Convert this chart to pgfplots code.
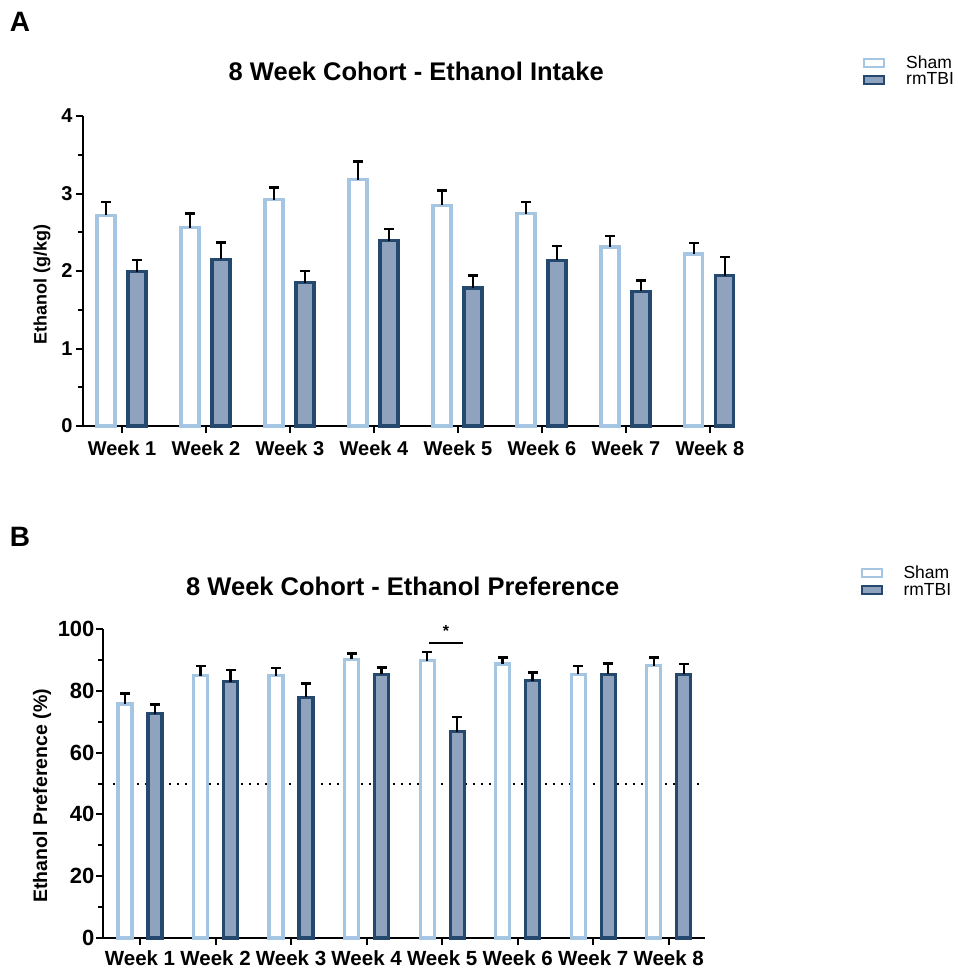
\documentclass[border=0pt]{standalone}
\usepackage{pgfplots}
\pgfplotsset{compat=1.18}
\usepackage{fontspec}
\setmainfont{Liberation Sans}
\definecolor{shamedge}{RGB}{165,198,227}
\definecolor{rmedge}{RGB}{37,72,110}
\definecolor{rmfill}{RGB}{143,163,190}
\pgfplotsset{
  myaxis/.style={
    scale only axis,
    ybar,
    axis lines=left,
    axis line style={-, line width=2pt},
    tick align=outside,
    major tick length=7pt,
    minor tick length=5pt,
    every tick/.style={line width=2pt, black},
    minor y tick num=1,
    xtick={1,2,3,4,5,6,7,8},
    xticklabels={Week 1,Week 2,Week 3,Week 4,Week 5,Week 6,Week 7,Week 8},
    /pgf/number format/assume math mode=true,
    title style={font=\bfseries\fontsize{25.5}{27}\selectfont, anchor=center},
    clip=false,
    legend cell align=left,
    legend image code/.code={\draw[#1, line width=2pt] (0pt,-4pt) rectangle (20pt,4pt);},
    legend style={draw=none, fill=none, inner sep=0pt, anchor=north west,
      font=\fontsize{17.5}{17.5}\selectfont, row sep=3pt, column sep=20pt,
      nodes={inner xsep=1pt, inner ysep=0pt}},
  },
  ebars/.style={
    error bars/y dir=plus,
    error bars/y explicit,
    error bars/error bar style={line width=2.5pt, black},
    error bars/error mark options={rotate=90, mark size=5pt, line width=2.5pt, black},
  },
  shamA/.style={ebars, draw=shamedge, fill=white, line width=3.2pt},
  rmA/.style={ebars, draw=rmedge, fill=rmfill, line width=3.2pt},
}
\begin{document}
\begin{tikzpicture}
\useasboundingbox (0,0) rectangle (958pt,-970pt);
\node[font=\bfseries\fontsize{28}{28}\selectfont] at (20pt,-22pt) {A};
\node[font=\bfseries\fontsize{28}{28}\selectfont] at (20pt,-537pt) {B};

% Panel A
\begin{axis}[myaxis,
  at={(83pt,-426pt)}, anchor=south west,
  width=642pt, height=310pt,
  bar width=18pt,
  xmin=0.535, xmax=8.18, ymin=0, ymax=4,
  ytick={0,1,2,3,4},
  ticklabel style={font=\bfseries\fontsize{20}{20}\selectfont},
  xticklabel style={yshift=-4pt},
  title={8 Week Cohort - Ethanol Intake},
  title style={at={(axis description cs:0.519,1.123)}},
  ylabel={Ethanol (g/kg)},
  ylabel style={font=\bfseries\fontsize{18}{18}\selectfont, at={(axis description cs:-0.064,0.455)}, anchor=center},
  legend style={at={(axis description cs:1.215,1.195)}},
]
\addplot[shamA, bar shift=-16pt] coordinates {
 (1,2.72) +- (0,0.17)
 (2,2.56) +- (0,0.18)
 (3,2.92) +- (0,0.16)
 (4,3.18) +- (0,0.23)
 (5,2.85) +- (0,0.19)
 (6,2.74) +- (0,0.15)
 (7,2.31) +- (0,0.14)
 (8,2.22) +- (0,0.14)
};
\addlegendentry{Sham}
\addplot[rmA, bar shift=15pt] coordinates {
 (1,1.99) +- (0,0.15)
 (2,2.15) +- (0,0.22)
 (3,1.85) +- (0,0.15)
 (4,2.39) +- (0,0.15)
 (5,1.78) +- (0,0.16)
 (6,2.14) +- (0,0.18)
 (7,1.74) +- (0,0.14)
 (8,1.94) +- (0,0.24)
};
\addlegendentry{rmTBI}
\end{axis}

% Panel B
\begin{axis}[myaxis,
  at={(103pt,-938pt)}, anchor=south west,
  width=602pt, height=309pt,
  bar width=14pt,
  xmin=0.51, xmax=8.48, ymin=0, ymax=100,
  ytick={0,20,40,60,80,100},
  xticklabel style={font=\bfseries\fontsize{20.5}{21}\selectfont, yshift=-2pt},
  yticklabel style={font=\bfseries\fontsize{22}{22}\selectfont, xshift=2pt},
  title={8 Week Cohort - Ethanol Preference},
  title style={at={(axis description cs:0.498,1.118)}},
  ylabel={Ethanol Preference (\%)},
  ylabel style={font=\bfseries\fontsize{19.5}{20}\selectfont, at={(axis description cs:-0.101,0.46)}, anchor=center},
  legend style={at={(axis description cs:1.258,1.205)}},
]
\addplot[forget plot, sharp plot, bar shift=0pt, black, line width=2pt, dash pattern=on 2pt off 6pt] coordinates {(0.64,50) (8.42,50)};
\addplot[shamA, bar shift=-15pt] coordinates {
 (1,75.7) +- (0,3.5)
 (2,84.9) +- (0,3.2)
 (3,84.9) +- (0,2.5)
 (4,90.2) +- (0,1.9)
 (5,89.7) +- (0,2.9)
 (6,88.7) +- (0,2.1)
 (7,85.3) +- (0,2.8)
 (8,88.1) +- (0,2.7)
};
\addlegendentry{Sham}
\addplot[rmA, bar shift=15pt] coordinates {
 (1,72.6) +- (0,3.0)
 (2,82.9) +- (0,3.8)
 (3,77.9) +- (0,4.5)
 (4,85.3) +- (0,2.2)
 (5,66.8) +- (0,4.8)
 (6,83.3) +- (0,2.7)
 (7,85.3) +- (0,3.6)
 (8,85.3) +- (0,3.3)
};
\addlegendentry{rmTBI}
\addplot[forget plot, sharp plot, bar shift=0pt, black, line width=1.8pt] coordinates {(4.82,95.6) (5.28,95.6)};
\node[font=\bfseries\fontsize{16}{16}\selectfont] at (axis cs:5.05,99.5) {*};
\end{axis}
\end{tikzpicture}
\end{document}
